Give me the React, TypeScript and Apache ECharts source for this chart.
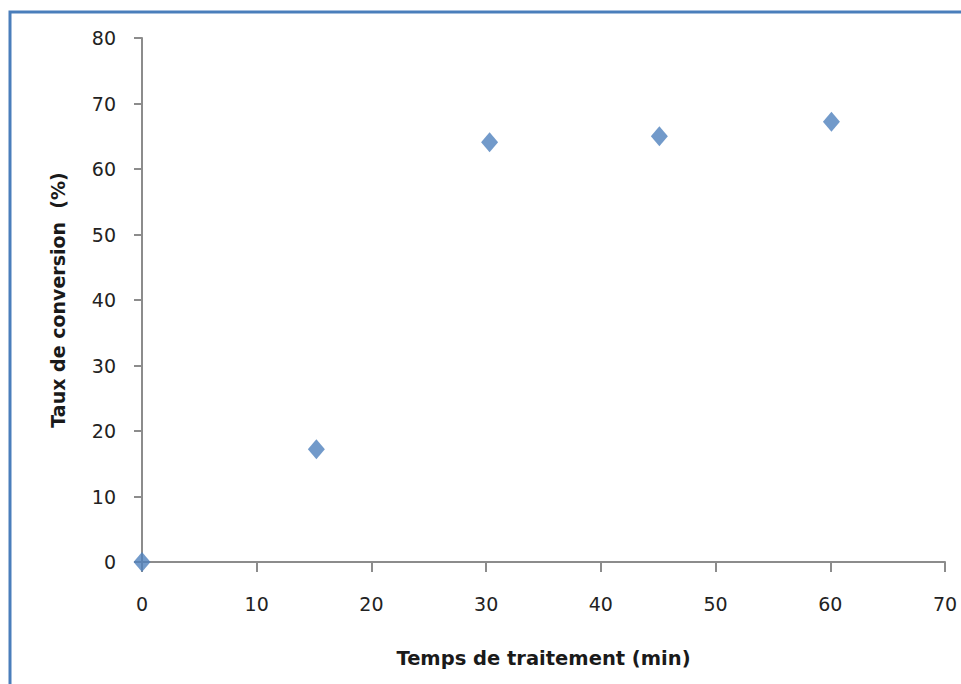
import React, { useEffect, useRef } from "react";
import * as echarts from "echarts";

const timeMin: number[] = [0, 15.2, 30.3, 45.1, 60.1];
const conversionPct: number[] = [0, 17.2, 64.1, 65.0, 67.2];
const xTitle = "Temps de traitement (min)";
const yTitle = "Taux de conversion  (%)";

export default function App() {
  const ref = useRef<HTMLDivElement>(null);
  useEffect(() => {
    document.body.style.margin = "0";
    const chart = echarts.init(ref.current!, null, { renderer: "svg" });
    const font = "'DejaVu Sans', Arial, sans-serif";
    chart.setOption({
      animation: false,
      backgroundColor: "#ffffff",
      grid: { left: 142, right: 16, top: 38, bottom: 122, containLabel: false },
      xAxis: {
        type: "value",
        min: 0,
        max: 70,
        interval: 10,
        name: xTitle,
        nameLocation: "middle",
        nameGap: 86,
        nameTextStyle: { fontFamily: font, fontSize: 19.5, fontWeight: "bold", color: "#1a1a1a" },
        axisLine: { show: true, lineStyle: { color: "#8c8c8c", width: 2 } },
        axisTick: { show: true, inside: false, length: 10, lineStyle: { color: "#8c8c8c", width: 2 } },
        axisLabel: { fontFamily: font, fontSize: 19, color: "#222", margin: 32 },
        splitLine: { show: false },
      },
      yAxis: {
        type: "value",
        min: 0,
        max: 80,
        interval: 10,
        name: yTitle,
        nameLocation: "middle",
        nameGap: 75,
        nameRotate: 90,
        nameTextStyle: { fontFamily: font, fontSize: 19, fontWeight: "bold", color: "#1a1a1a" },
        axisLine: { show: true, lineStyle: { color: "#8c8c8c", width: 2 } },
        axisTick: { show: true, inside: false, length: 8, lineStyle: { color: "#8c8c8c", width: 2 } },
        axisLabel: { fontFamily: font, fontSize: 19, color: "#222", margin: 26 },
        splitLine: { show: false },
      },
      graphic: [
        {
          type: "rect",
          shape: { x: 10, y: 12, width: 1000, height: 800 },
          style: { fill: "none", stroke: "#4a7ebb", lineWidth: 3 },
          silent: true,
          z: 100,
        },
      ],
      series: [
        {
          type: "scatter",
          data: timeMin.map((t, i) => [t, conversionPct[i]]),
          symbol: "diamond",
          symbolSize: [17, 20],
          itemStyle: { color: "#4f81bd" },
        },
      ],
    });
    return () => chart.dispose();
  }, []);
  return (
    <div
      ref={ref}
      style={{ position: "absolute", left: 0, top: 0, width: 961, height: 684 }}
    />
  );
}
